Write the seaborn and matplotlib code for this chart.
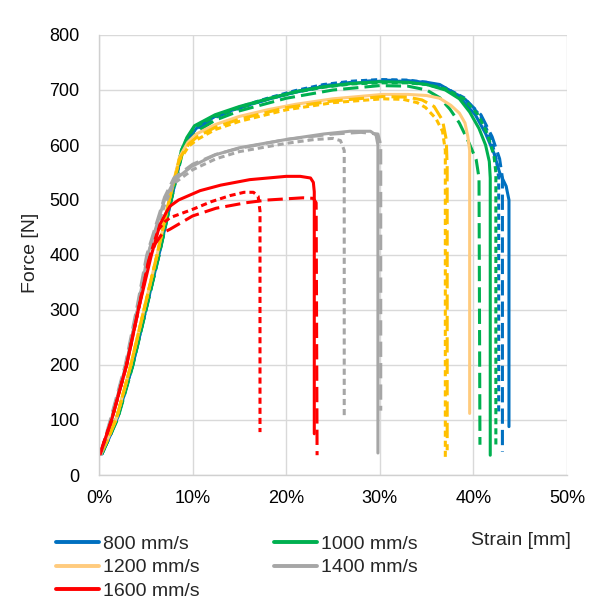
import matplotlib
matplotlib.use("Agg")
import matplotlib.pyplot as plt
import seaborn as sns
from matplotlib.lines import Line2D
from matplotlib.ticker import FuncFormatter, MultipleLocator

sns.set_theme(style="whitegrid")
plt.rcParams["font.family"] = ["Liberation Sans", "DejaVu Sans"]

# ── data: strain [%] / force [N] ──────────────────────────────────────────────
speeds = ["800 mm/s", "1000 mm/s", "1200 mm/s", "1400 mm/s", "1600 mm/s"]
colors = {
    "800 mm/s": "#0070C0",
    "1000 mm/s": "#00B050",
    "1200 mm/s": "#FFC000",
    "1400 mm/s": "#A6A6A6",
    "1600 mm/s": "#FF0000",
}
solid_1200 = "#FFCB7D"

# 800 mm/s
b_solid_x = [0.3, 1.1, 2.0, 3.6, 5.0, 6.4, 7.7, 8.9, 9.6, 10.5, 12.4, 15, 18, 21, 24, 27, 30, 33, 35,
             36.4, 37.6, 38.8, 40.2, 41.3, 42.2, 42.8, 43.5, 43.8, 43.8]
b_solid_y = [38, 68, 105, 200, 300, 400, 500, 590, 615, 632, 652, 668, 683, 696, 706, 712, 716, 716, 714,
             710, 698, 681, 655, 621, 585, 550, 525, 500, 88]
b_dash_x = [0.3, 1.1, 2.0, 3.6, 5.0, 6.4, 7.7, 8.9, 9.6, 10.5, 12.4, 15, 18, 21, 24, 27, 30, 33, 35,
            37, 39, 40.8, 42.0, 42.8, 43.1, 43.1]
b_dash_y = [38, 68, 105, 200, 300, 400, 500, 588, 612, 630, 650, 667, 683, 697, 708, 714, 718, 717, 713,
            703, 685, 655, 615, 575, 540, 42]
b_dot_x = [0.3, 1.1, 2.0, 3.6, 5.0, 6.4, 7.7, 8.9, 9.6, 10.5, 12.4, 15, 18, 21, 24, 27, 30, 33, 35,
           37, 39, 40.8, 41.9, 42.5, 42.7, 42.7]
b_dot_y = [38, 68, 105, 200, 300, 400, 500, 590, 614, 632, 652, 669, 685, 699, 710, 716, 719, 718, 714,
           704, 686, 652, 610, 570, 540, 112]

# 1000 mm/s
g_solid_x = [0.2, 1.0, 1.9, 3.5, 4.9, 6.3, 7.6, 8.8, 9.4, 10.2, 12.4, 15, 18, 21, 24, 27, 30, 33, 35,
             37, 38.5, 39.6, 40.6, 41.3, 41.7, 41.8, 41.8]
g_solid_y = [40, 70, 105, 200, 300, 400, 500, 590, 614, 635, 655, 670, 684, 697, 706, 712, 715, 714, 710,
             700, 684, 660, 630, 600, 570, 540, 36]
g_dash_x = [0.3, 1.1, 2.0, 3.6, 5.0, 6.4, 7.7, 8.9, 9.6, 10.5, 12.4, 15, 20, 25, 30, 33, 35,
            36.4, 37.5, 38.5, 39.5, 40.3, 40.6, 40.7]
g_dash_y = [38, 68, 102, 198, 298, 398, 498, 585, 605, 625, 645, 662, 685, 700, 708, 707, 700,
            686, 665, 640, 605, 573, 540, 55]
g_dot_x = [0.2, 1.0, 1.9, 3.5, 4.9, 6.3, 7.6, 8.8, 9.4, 10.2, 12.4, 15, 18, 21, 24, 27, 30, 33, 35,
           37, 39, 40.5, 41.5, 42.2, 42.4, 42.4]
g_dot_y = [40, 70, 105, 200, 300, 400, 500, 590, 612, 632, 652, 668, 683, 696, 705, 711, 713, 713, 710,
           702, 684, 655, 620, 580, 550, 54]

# 1200 mm/s
y_solid_x = [0.2, 1.0, 1.9, 3.4, 4.8, 6.2, 7.5, 8.6, 9.5, 10.4, 12.4, 15, 18, 21, 25, 30.3, 33, 35,
             36.4, 37.6, 38.5, 39.1, 39.4, 39.6, 39.6]
y_solid_y = [38, 68, 105, 200, 300, 400, 500, 578, 605, 620, 637, 652, 664, 674, 684, 692, 692, 690,
             685, 672, 658, 640, 616, 590, 112]
y_dash_x = [0.2, 1.0, 1.9, 3.4, 4.8, 6.2, 7.5, 8.6, 9.6, 10.5, 12.4, 15, 20, 25, 30.3, 33, 34.5,
            35.8, 36.7, 37.1, 37.2, 37.2]
y_dash_y = [38, 68, 105, 200, 300, 400, 500, 575, 602, 615, 632, 647, 668, 680, 688, 687, 682,
            670, 645, 610, 560, 45]
y_dot_x = [0.2, 1.0, 1.9, 3.4, 4.8, 6.2, 7.5, 8.6, 9.6, 10.5, 12.4, 15, 20, 25, 30.3, 32.5, 34.0,
           34.9, 36.0, 36.7, 37.0, 37.0]
y_dot_y = [38, 68, 105, 200, 300, 400, 500, 572, 598, 610, 628, 643, 664, 677, 684, 683, 677,
           668, 648, 625, 590, 33]

# 1400 mm/s
k_solid_x = [0.2, 1.3, 2.9, 4.1, 5.2, 6.0, 7.0, 8.1, 9.9, 12.4, 15, 20, 24, 26.8, 29, 29.6, 29.8, 29.8]
k_solid_y = [38, 100, 200, 300, 400, 445, 500, 537, 561, 582, 595, 610, 620, 625, 625, 618, 600, 40]
k_dash_x = [0.2, 1.2, 2.8, 4.0, 5.1, 6.0, 7.0, 8.0, 10, 12.5, 15, 20, 25, 28, 29.8, 30.1, 30.1]
k_dash_y = [40, 100, 200, 300, 400, 450, 505, 540, 565, 583, 594, 610, 620, 623, 620, 600, 117]
k_dot_x = [0.2, 1.3, 2.9, 4.1, 5.2, 6.0, 7.0, 8.0, 10, 12.5, 15, 20, 23, 25, 25.8, 26.2, 26.2]
k_dot_y = [38, 100, 200, 300, 400, 440, 490, 530, 555, 575, 588, 603, 610, 612, 608, 590, 108]

# 1600 mm/s
r_solid_x = [0.1, 1.35, 2.95, 4.2, 5.6, 6.5, 7.2, 7.6, 8.5, 10.8, 13, 16.1, 20, 21.5, 22.6, 22.9, 23.0, 23.0]
r_solid_y = [38, 100, 200, 300, 400, 455, 478, 489, 500, 517, 527, 537, 543, 543, 540, 532, 515, 75]
r_dash_x = [0.1, 1.35, 2.95, 4.2, 5.3, 6.0, 6.8, 7.6, 10, 12.5, 15.7, 18, 21.8, 22.9, 23.2, 23.3]
r_dash_y = [38, 100, 200, 300, 390, 420, 440, 447, 471, 485, 495, 500, 504, 503, 495, 36]
r_dot_x = [0.1, 1.35, 2.95, 4.2, 5.4, 6.3, 7.0, 7.6, 10, 12, 14, 15.5, 16.5, 17.0, 17.2, 17.2]
r_dot_y = [38, 100, 200, 300, 395, 445, 460, 468, 483, 497, 508, 514, 514, 507, 480, 78]

curves = {
    "800 mm/s": [(b_solid_x, b_solid_y), (b_dash_x, b_dash_y), (b_dot_x, b_dot_y)],
    "1000 mm/s": [(g_solid_x, g_solid_y), (g_dash_x, g_dash_y), (g_dot_x, g_dot_y)],
    "1200 mm/s": [(y_solid_x, y_solid_y), (y_dash_x, y_dash_y), (y_dot_x, y_dot_y)],
    "1400 mm/s": [(k_solid_x, k_solid_y), (k_dash_x, k_dash_y), (k_dot_x, k_dot_y)],
    "1600 mm/s": [(r_solid_x, r_solid_y), (r_dash_x, r_dash_y), (r_dot_x, r_dot_y)],
}
styles = ["-", (0, (5, 2)), (0, (2, 1.3))]

# ── figure ────────────────────────────────────────────────────────────────────
fig = plt.figure(figsize=(5.95, 6.0), dpi=100)
ax = fig.add_axes([99 / 595, 1 - 475 / 600, 468 / 595, 440 / 600])

lw = 2.2
for sp in speeds:
    for (xs, ys), ls in zip(curves[sp], styles):
        c = solid_1200 if (sp == "1200 mm/s" and ls == "-") else colors[sp]
        sns.lineplot(x=xs, y=ys, sort=False, estimator=None, ax=ax, color=c,
                     linewidth=lw, linestyle=ls, legend=False)

ax.set_xlim(0, 50)
ax.set_ylim(0, 800)
ax.xaxis.set_major_locator(MultipleLocator(10))
ax.yaxis.set_major_locator(MultipleLocator(100))
ax.xaxis.set_major_formatter(FuncFormatter(lambda v, _: f"{v:.0f}%"))

ax.grid(True, color="#D9D9D9", linewidth=1)
for side in ["top", "right"]:
    ax.spines[side].set_visible(False)
for side in ["left", "bottom"]:
    ax.spines[side].set_color("#D0D0D0")
    ax.spines[side].set_linewidth(1)
ax.tick_params(axis="both", length=0, labelsize=13, colors="black")
ax.tick_params(axis="x", pad=11)
ax.tick_params(axis="y", pad=14)

ax.set_xlabel("Strain [mm]", fontsize=14)
ax.xaxis.set_label_coords((521 - 99) / 468, (475 - 532) / 440)
ax.set_ylabel("Force [N]", fontsize=14)
ax.yaxis.set_label_coords((39 - 99) / 468, (475 - 253) / 440)

handles = {sp: Line2D([], [], color=(solid_1200 if sp == "1200 mm/s" else colors[sp]), linewidth=2.8)
           for sp in speeds}
order = ["800 mm/s", "1200 mm/s", "1600 mm/s", "1000 mm/s", "1400 mm/s"]
fig.legend([handles[s] for s in order], order, loc="upper left",
           bbox_to_anchor=(56 / 595, 1 - 535 / 600), ncol=2, frameon=False, fontsize=14,
           handlelength=2.2, handletextpad=0.2, columnspacing=3.85, labelspacing=0.32,
           borderpad=0, borderaxespad=0)

fig.savefig("out.png", dpi=100)
